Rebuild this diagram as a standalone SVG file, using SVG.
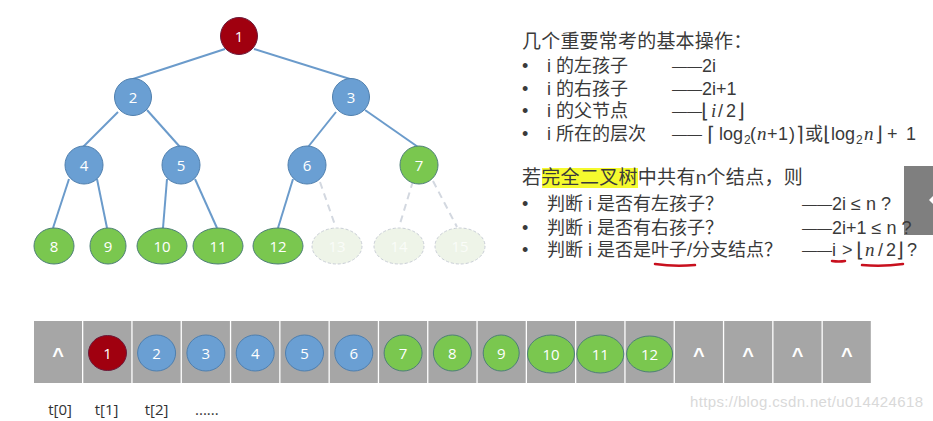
<svg xmlns="http://www.w3.org/2000/svg" width="933" height="421" viewBox="0 0 933 421">
<style>
.edge{stroke:#6B9BCB;stroke-width:2;fill:none}
.ghost{stroke:#D3D8E0;stroke-width:2;fill:none;stroke-dasharray:7,5}
.red{fill:#A0000F;stroke:#6B1A3A;stroke-width:1}
.blue{fill:#6A9FD3;stroke:#4F7FAE;stroke-width:1}
.green{fill:#7AC74F;stroke:#4E7F78;stroke-width:1}
.faded{fill:#EEF4E8;stroke:#C9CED6;stroke-width:1;stroke-dasharray:3,2}
.num{font-family:"Open Sans","Liberation Sans",sans-serif;font-size:15px;fill:#FFFFFF;text-anchor:middle}
.fnum{font-family:"Open Sans","Liberation Sans",sans-serif;font-size:15px;fill:#FAFCF8;text-anchor:middle}
.cell{fill:#A6A6A6}
.caret{font-family:"Liberation Sans",sans-serif;font-size:20px;font-weight:bold;fill:#FFFFFF;text-anchor:middle}
.t{font-family:"Liberation Sans","Noto Sans CJK SC",sans-serif;font-size:18px;fill:#3A3A3A}
.h{font-family:"Liberation Sans","Noto Sans CJK SC",sans-serif;font-size:19px;fill:#3A3A3A}
.d{font-family:"Liberation Sans",sans-serif;font-size:15px;fill:#3A3A3A}
.br{font-family:"DejaVu Sans",sans-serif;font-size:20px;fill:#3A3A3A}
.it{font-family:"Liberation Serif",serif;font-size:19px;font-style:italic;fill:#3A3A3A}
.s{font-family:"Liberation Sans",sans-serif;font-size:18px;fill:#3A3A3A}
.sub{font-family:"Liberation Sans",sans-serif;font-size:12px;fill:#3A3A3A}
.lbl{font-family:"Open Sans","Liberation Sans",sans-serif;font-size:15px;fill:#333333}
.ul{stroke:#C8101E;stroke-width:2.5;fill:none;stroke-linecap:round}
</style>

<g id="connectors">
<line class="edge" x1="225" y1="49" x2="133" y2="79"/>
<line class="edge" x1="254" y1="49" x2="350" y2="79"/>
<line class="edge" x1="118" y1="112" x2="80" y2="150"/>
<line class="edge" x1="147" y1="110" x2="180" y2="147"/>
<line class="edge" x1="336" y1="112" x2="308" y2="147"/>
<line class="edge" x1="365" y1="110" x2="418" y2="147"/>
<line class="edge" x1="69" y1="179" x2="53" y2="228"/>
<line class="edge" x1="97" y1="179" x2="107" y2="228"/>
<line class="edge" x1="167" y1="179" x2="163" y2="228"/>
<line class="edge" x1="195" y1="179" x2="217" y2="228"/>
<line class="edge" x1="293" y1="179" x2="278" y2="228"/>
<line class="ghost" x1="320" y1="182" x2="335" y2="225"/>
<line class="ghost" x1="413" y1="181" x2="399" y2="227"/>
<line class="ghost" x1="433" y1="181" x2="457" y2="227"/>
</g>

<g id="n1"><circle class="red" cx="239" cy="36" r="18.5"/><text class="num" x="239" y="41.5">1</text></g>
<g id="n2"><circle class="blue" cx="133" cy="97" r="18.5"/><text class="num" x="133" y="102.5">2</text></g>
<g id="n3"><circle class="blue" cx="351" cy="97" r="18.5"/><text class="num" x="351" y="102.5">3</text></g>
<g id="n4"><circle class="blue" cx="84" cy="165" r="19"/><text class="num" x="84" y="170.5">4</text></g>
<g id="n5"><circle class="blue" cx="181" cy="165" r="19"/><text class="num" x="181" y="170.5">5</text></g>
<g id="n6"><circle class="blue" cx="307" cy="165" r="19"/><text class="num" x="307" y="170.5">6</text></g>
<g id="n7"><circle class="green" cx="419" cy="165" r="19"/><text class="num" x="419" y="170.5">7</text></g>
<g id="n8"><ellipse class="green" cx="54" cy="246" rx="20" ry="18"/><text class="num" x="54" y="251.5">8</text></g>
<g id="n9"><ellipse class="green" cx="108" cy="246" rx="18" ry="18"/><text class="num" x="108" y="251.5">9</text></g>
<g id="n10"><ellipse class="green" cx="162" cy="246" rx="25" ry="18"/><text class="num" x="162" y="251.5">10</text></g>
<g id="n11"><ellipse class="green" cx="218" cy="246" rx="25" ry="18"/><text class="num" x="218" y="251.5">11</text></g>
<g id="n12"><ellipse class="green" cx="278" cy="246" rx="25" ry="18"/><text class="num" x="278" y="251.5">12</text></g>
<g id="n13"><ellipse class="faded" cx="337" cy="246" rx="25" ry="18"/><text class="fnum" x="337" y="251.5">13</text></g>
<g id="n14"><ellipse class="faded" cx="399" cy="246" rx="25" ry="18"/><text class="fnum" x="399" y="251.5">14</text></g>
<g id="n15"><ellipse class="faded" cx="460" cy="246" rx="25" ry="18"/><text class="fnum" x="460" y="251.5">15</text></g>

<g id="panel">
<rect x="904" y="166" width="29" height="69" fill="#7F7F7F"/>
<polygon points="933,196 929,200 933,204" fill="#FFFFFF"/>
</g>

<g id="ops">
<text class="h" x="522" y="48" letter-spacing="0.2">几个重要常考的基本操作：</text>
<text class="t" x="522" y="72">•</text><text class="t" x="547" y="72">i 的左孩子</text>
<text class="d" x="672" y="71">——</text><text class="s" x="702" y="72">2i</text>
<text class="t" x="522" y="95">•</text><text class="t" x="547" y="95">i 的右孩子</text>
<text class="d" x="672" y="94">——</text><text class="s" x="702" y="95">2i+1</text>
<text class="t" x="522" y="117">•</text><text class="t" x="547" y="117">i 的父节点</text>
<text class="d" x="672" y="116">——</text>
<text class="br" x="701" y="118">⌊</text><text class="it" x="711" y="117">i</text><text class="s" x="718" y="117">/</text><text class="s" x="726" y="117">2</text><text class="br" x="737" y="118">⌋</text>
<text class="t" x="522" y="140">•</text><text class="t" x="547" y="140">i 所在的层次</text>
<text class="d" x="672" y="139">——</text>
<text class="br" x="707" y="141">⌈</text>
<text class="s" x="719" y="140">log</text><text class="sub" x="744" y="144">2</text>
<text class="s" x="750" y="140">(</text><text class="it" x="757" y="140">n</text>
<text class="s" x="767" y="140">+</text><text class="s" x="778" y="140">1</text><text class="s" x="789" y="140">)</text>
<text class="br" x="796" y="141">⌉</text>
<text class="t" x="805" y="140">或</text>
<text class="br" x="823" y="141">⌊</text>
<text class="s" x="831" y="140">log</text><text class="sub" x="856" y="144">2</text>
<text class="it" x="864" y="140">n</text>
<text class="br" x="875" y="141">⌋</text>
<text class="s" x="887" y="140">+</text><text class="s" x="906" y="140">1</text>
</g>

<g id="complete">
<rect x="542" y="168" width="96" height="20" fill="#F5FA2E"/>
<text class="h" x="522" y="184" letter-spacing="0.3">若完全二叉树中共有n个结点，则</text>
<text class="t" x="522" y="210">•</text><text class="t" x="547" y="210">判断 i 是否有左孩子？</text>
<text class="d" x="802" y="209">——</text><text class="s" x="832" y="210">2i ≤ n ?</text>
<text class="t" x="522" y="234">•</text><text class="t" x="547" y="234">判断 i 是否有右孩子？</text>
<text class="d" x="802" y="233">——</text><text class="s" x="832" y="234">2i+1 ≤ n ?</text>
<text class="t" x="522" y="256">•</text><text class="t" x="547" y="256">判断 i 是否是叶子/分支结点？</text>
<text class="d" x="802" y="255">——</text><text class="s" x="832" y="256">i</text>
<text class="s" x="842" y="256">&gt;</text>
<text class="br" x="856" y="257">⌊</text><text class="it" x="865" y="256">n</text><text class="s" x="878" y="256">/</text><text class="s" x="886" y="256">2</text><text class="br" x="896" y="257">⌋</text>
<text class="s" x="907" y="256">?</text>
<path class="ul" d="M655,264 Q675,267 695,265"/>
<path class="ul" d="M832,261 Q839,262 845,261"/>
<path class="ul" d="M862,265 Q882,267 903,264"/>
</g>

<g id="array">
<rect class="cell" x="34" y="321" width="48" height="62"/>
<rect class="cell" x="83.3" y="321" width="48" height="62"/>
<rect class="cell" x="132.6" y="321" width="48" height="62"/>
<rect class="cell" x="181.9" y="321" width="48" height="62"/>
<rect class="cell" x="231.2" y="321" width="48" height="62"/>
<rect class="cell" x="280.5" y="321" width="48" height="62"/>
<rect class="cell" x="329.8" y="321" width="48" height="62"/>
<rect class="cell" x="379.1" y="321" width="48" height="62"/>
<rect class="cell" x="428.4" y="321" width="48" height="62"/>
<rect class="cell" x="477.7" y="321" width="48" height="62"/>
<rect class="cell" x="527" y="321" width="48" height="62"/>
<rect class="cell" x="576.3" y="321" width="48" height="62"/>
<rect class="cell" x="625.6" y="321" width="48" height="62"/>
<rect class="cell" x="674.9" y="321" width="48" height="62"/>
<rect class="cell" x="724.2" y="321" width="48" height="62"/>
<rect class="cell" x="773.5" y="321" width="48" height="62"/>
<rect class="cell" x="822.8" y="321" width="48" height="62"/>
</g>
<g id="a0"><text class="caret" x="58" y="362">^</text></g>
<g id="a1"><ellipse class="red" cx="107.5" cy="353" rx="19" ry="17.5"/><text class="num" x="107.5" y="358.5">1</text></g>
<g id="a2"><ellipse class="blue" cx="156.6" cy="353" rx="19" ry="18"/><text class="num" x="156.6" y="358.5">2</text></g>
<g id="a3"><ellipse class="blue" cx="205.9" cy="353" rx="19" ry="18"/><text class="num" x="205.9" y="358.5">3</text></g>
<g id="a4"><ellipse class="blue" cx="255.2" cy="353" rx="19" ry="18"/><text class="num" x="255.2" y="358.5">4</text></g>
<g id="a5"><ellipse class="blue" cx="304.5" cy="353" rx="19" ry="18"/><text class="num" x="304.5" y="358.5">5</text></g>
<g id="a6"><ellipse class="blue" cx="353.8" cy="353" rx="19" ry="18"/><text class="num" x="353.8" y="358.5">6</text></g>
<g id="a7"><ellipse class="green" cx="403.1" cy="353" rx="19" ry="18"/><text class="num" x="403.1" y="358.5">7</text></g>
<g id="a8"><ellipse class="green" cx="452.4" cy="353" rx="19" ry="18"/><text class="num" x="452.4" y="358.5">8</text></g>
<g id="a9"><ellipse class="green" cx="501.2" cy="353" rx="18" ry="18"/><text class="num" x="501.2" y="358.5">9</text></g>
<g id="a10"><ellipse class="green" cx="551" cy="354" rx="23.5" ry="19"/><text class="num" x="551" y="359.5">10</text></g>
<g id="a11"><ellipse class="green" cx="600.3" cy="354" rx="23.5" ry="19"/><text class="num" x="600.3" y="359.5">11</text></g>
<g id="a12"><ellipse class="green" cx="649.6" cy="354" rx="23" ry="18"/><text class="num" x="649.6" y="359.5">12</text></g>
<g id="a13"><text class="caret" x="698.9" y="362">^</text></g>
<g id="a14"><text class="caret" x="748.2" y="362">^</text></g>
<g id="a15"><text class="caret" x="797.5" y="362">^</text></g>
<g id="a16"><text class="caret" x="846.8" y="362">^</text></g>

<g id="labels">
<text class="lbl" x="60" y="415" text-anchor="middle">t[0]</text>
<text class="lbl" x="106.5" y="415" text-anchor="middle">t[1]</text>
<text class="lbl" x="156.5" y="415" text-anchor="middle">t[2]</text>
<text class="lbl" x="195" y="415">......</text>
<text x="690" y="407" font-family="Liberation Sans,sans-serif" font-size="15" fill="#D9D9D9" textLength="233">https://blog.csdn.net/u014424618</text>
</g>
</svg>
